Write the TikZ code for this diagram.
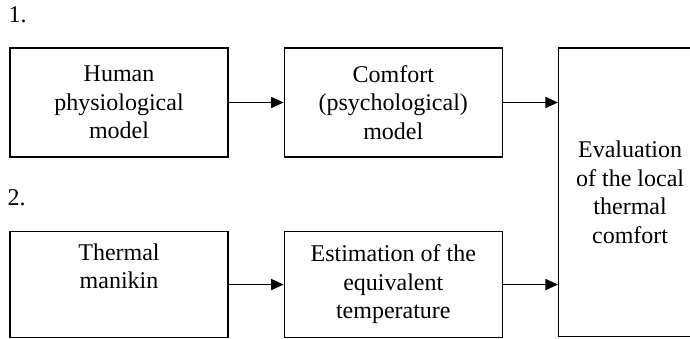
\documentclass[tikz,border=0pt]{standalone}
\usepackage{fontspec}
\setmainfont{Liberation Serif}
\usepackage{tikz}
\usetikzlibrary{positioning,arrows.meta}
\tikzset{
    tag/.style={inner sep=0pt, font=\fontsize{24}{28.5}\selectfont}
}

\begin{document}
\begin{tikzpicture}[x=1pt, y=1pt, node distance=73pt and 55pt,
    block/.style={draw, rectangle, line width=1.3pt, align=center, inner sep=0pt,
        minimum width=218pt, minimum height=109pt, font=\fontsize{24}{28.5}\selectfont},
    tall/.style={block, minimum width=143pt, minimum height=288.5pt},
    arrow/.style={-{Triangle[length=12.5pt, width=11pt]}, line width=1.6pt}]

\useasboundingbox (0,0) rectangle (690,339);

\node [block] (human) at (119,236.5) {Human\\physiological\\model};
\node [block, right=of human] (comfort) {Comfort\\(psychological)\\model};
\node [block, below=of human, minimum height=106.5pt] (manikin) {Thermal\\manikin\\\strut};
\node [block, right=of manikin, minimum height=106.5pt] (estim) {Estimation of the\\equivalent\\temperature};
\node [tall, below right=0pt and 55pt of comfort.north east] (eval) {Evaluation\\of the local\\thermal\\comfort};

% numbering of the two ways
\node [tag, above right=25pt and -1pt of human.north west, anchor=base west] (one) {1.};
\node [tag, above right=25pt and -2pt of manikin.north west, anchor=base west] (two) {2.};

\draw [arrow] (human) -- (comfort);
\draw [arrow] (comfort) -- (comfort -| eval.west);
\draw [arrow] (manikin) -- (estim);
\draw [arrow] (estim) -- (estim -| eval.west);

\end{tikzpicture}
\end{document}
